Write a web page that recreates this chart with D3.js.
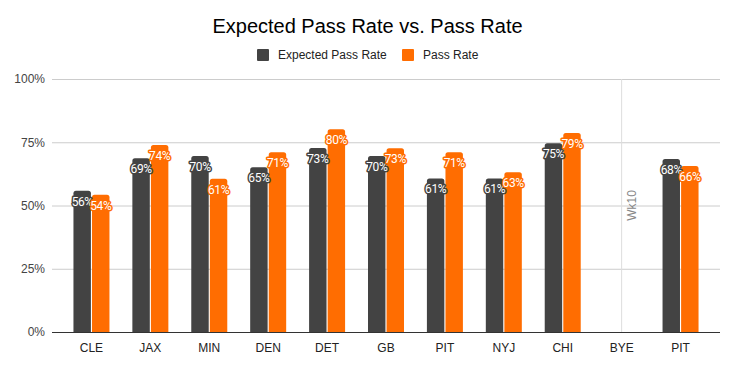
<!DOCTYPE html>
<html>
<head>
<meta charset="utf-8">
<script src="https://cdn.jsdelivr.net/npm/d3@7"></script>
<style>
  body { margin: 0; background: #fff; }
  #chart text { font-family: 'Liberation Sans', Arial, sans-serif; }
</style>
</head>
<body>
<div id="chart"></div>
<script>
// data
const teams = ['CLE', 'JAX', 'MIN', 'DEN', 'DET', 'GB', 'PIT', 'NYJ', 'CHI', 'BYE', 'PIT ']
const expectedRate = [55.8, 68.7, 69.6, 65.1, 72.7, 69.6, 60.7, 60.7, 74.6, null, 68.4]
const passRate = [54.2, 73.9, 60.6, 71.0, 80.1, 72.6, 71.0, 63.1, 78.7, null, 65.6]
const seriesNames = ['Expected Pass Rate', 'Pass Rate']
const yTicks = [0, 25, 50, 75, 100]
const byeWeek = { team: 'BYE', label: 'Wk10' }

const colors = ['#434343', '#ff6d01']
const W = 735
const H = 369

const svg = d3
  .select('#chart')
  .append('svg')
  .attr('width', W)
  .attr('height', H)

/// scales ////////////////////////
const xScale = d3.scaleBand().domain(teams).range([62, 710]).paddingInner(0).paddingOuter(0)
const subScale = d3.scaleBand().domain([0, 1]).range([-18, 18]).paddingInner(0.06)
const yScale = d3.scaleLinear().domain([0, 100]).range([332, 79])

/// gridlines + y axis ////////////
const yAxis = svg
  .append('g')
  .attr('transform', 'translate(52,0)')
  .call(
    d3
      .axisLeft(yScale)
      .tickValues(yTicks)
      .tickSize(-668)
      .tickPadding(7)
      .tickFormat(d => d + '%')
  )
yAxis.select('.domain').remove()
yAxis.selectAll('line').attr('stroke', '#cccccc')
yAxis.selectAll('text').attr('font-size', 12).attr('fill', '#444')

/// bye week marker ///////////////
const byeX = xScale(byeWeek.team) + xScale.bandwidth() / 2
svg
  .append('line')
  .attr('x1', byeX)
  .attr('x2', byeX)
  .attr('y1', yScale(100))
  .attr('y2', yScale(0))
  .attr('stroke', '#dddddd')
svg
  .append('text')
  .text(byeWeek.label)
  .attr('transform', `translate(${byeX + 14},${yScale(50)}) rotate(-90)`)
  .attr('text-anchor', 'middle')
  .attr('font-size', 12)
  .attr('fill', '#888')

/// bars //////////////////////////
const rows = teams.map((t, i) => ({ team: t, values: [expectedRate[i], passRate[i]] }))

function barPath(x, w, y0, y1, r) {
  return `M${x},${y0}V${y1 + r}Q${x},${y1} ${x + r},${y1}H${x + w - r}Q${x + w},${y1} ${x + w},${y1 + r}V${y0}Z`
}

const groups = svg
  .append('g')
  .selectAll('g')
  .data(rows)
  .join('g')
  .attr('transform', d => `translate(${xScale(d.team) + xScale.bandwidth() / 2},0)`)

groups
  .selectAll('path')
  .data(d => d.values.map((v, k) => ({ v, k })).filter(e => e.v != null))
  .join('path')
  .attr('fill', e => colors[e.k])
  .attr('d', e => barPath(subScale(e.k), subScale.bandwidth(), yScale(0), yScale(e.v), 2.5))

groups
  .selectAll('text')
  .data(d => d.values.map((v, k) => ({ v, k })).filter(e => e.v != null))
  .join('text')
  .text(e => Math.round(e.v) + '%')
  .attr('x', e => subScale(e.k) + subScale.bandwidth() / 2)
  .attr('y', e => yScale(e.v) + 15)
  .attr('text-anchor', 'middle')
  .attr('font-size', 12)
  .attr('letter-spacing', -0.4)
  .style('font-family', 'Roboto, sans-serif')
  .attr('fill', '#fff')
  .attr('stroke', e => colors[e.k])
  .attr('stroke-width', 3)
  .attr('stroke-linejoin', 'round')
  .attr('paint-order', 'stroke')

/// x axis ////////////////////////
const xAxis = svg
  .append('g')
  .attr('transform', `translate(0,${yScale(0)})`)
  .call(d3.axisBottom(xScale).tickSize(0).tickPadding(11).tickFormat(d => d.trim()))
xAxis.select('.domain').attr('d', `M52,0.5H720`).attr('stroke', '#333')
xAxis.selectAll('text').attr('font-size', 12).attr('fill', '#222')

/// title + legend ////////////////
svg
  .append('text')
  .text('Expected Pass Rate vs. Pass Rate')
  .attr('x', 367.5)
  .attr('y', 33)
  .attr('text-anchor', 'middle')
  .attr('font-size', 20)
  .attr('fill', '#000')

const legendX = [257, 402]
seriesNames.forEach((name, k) => {
  svg
    .append('rect')
    .attr('x', legendX[k])
    .attr('y', 49)
    .attr('width', 12)
    .attr('height', 12)
    .attr('rx', 1)
    .attr('fill', colors[k])
  svg
    .append('text')
    .text(name)
    .attr('x', legendX[k] + 21)
    .attr('y', 59)
    .attr('font-size', 12)
    .attr('fill', '#222')
})
</script>
</body>
</html>
